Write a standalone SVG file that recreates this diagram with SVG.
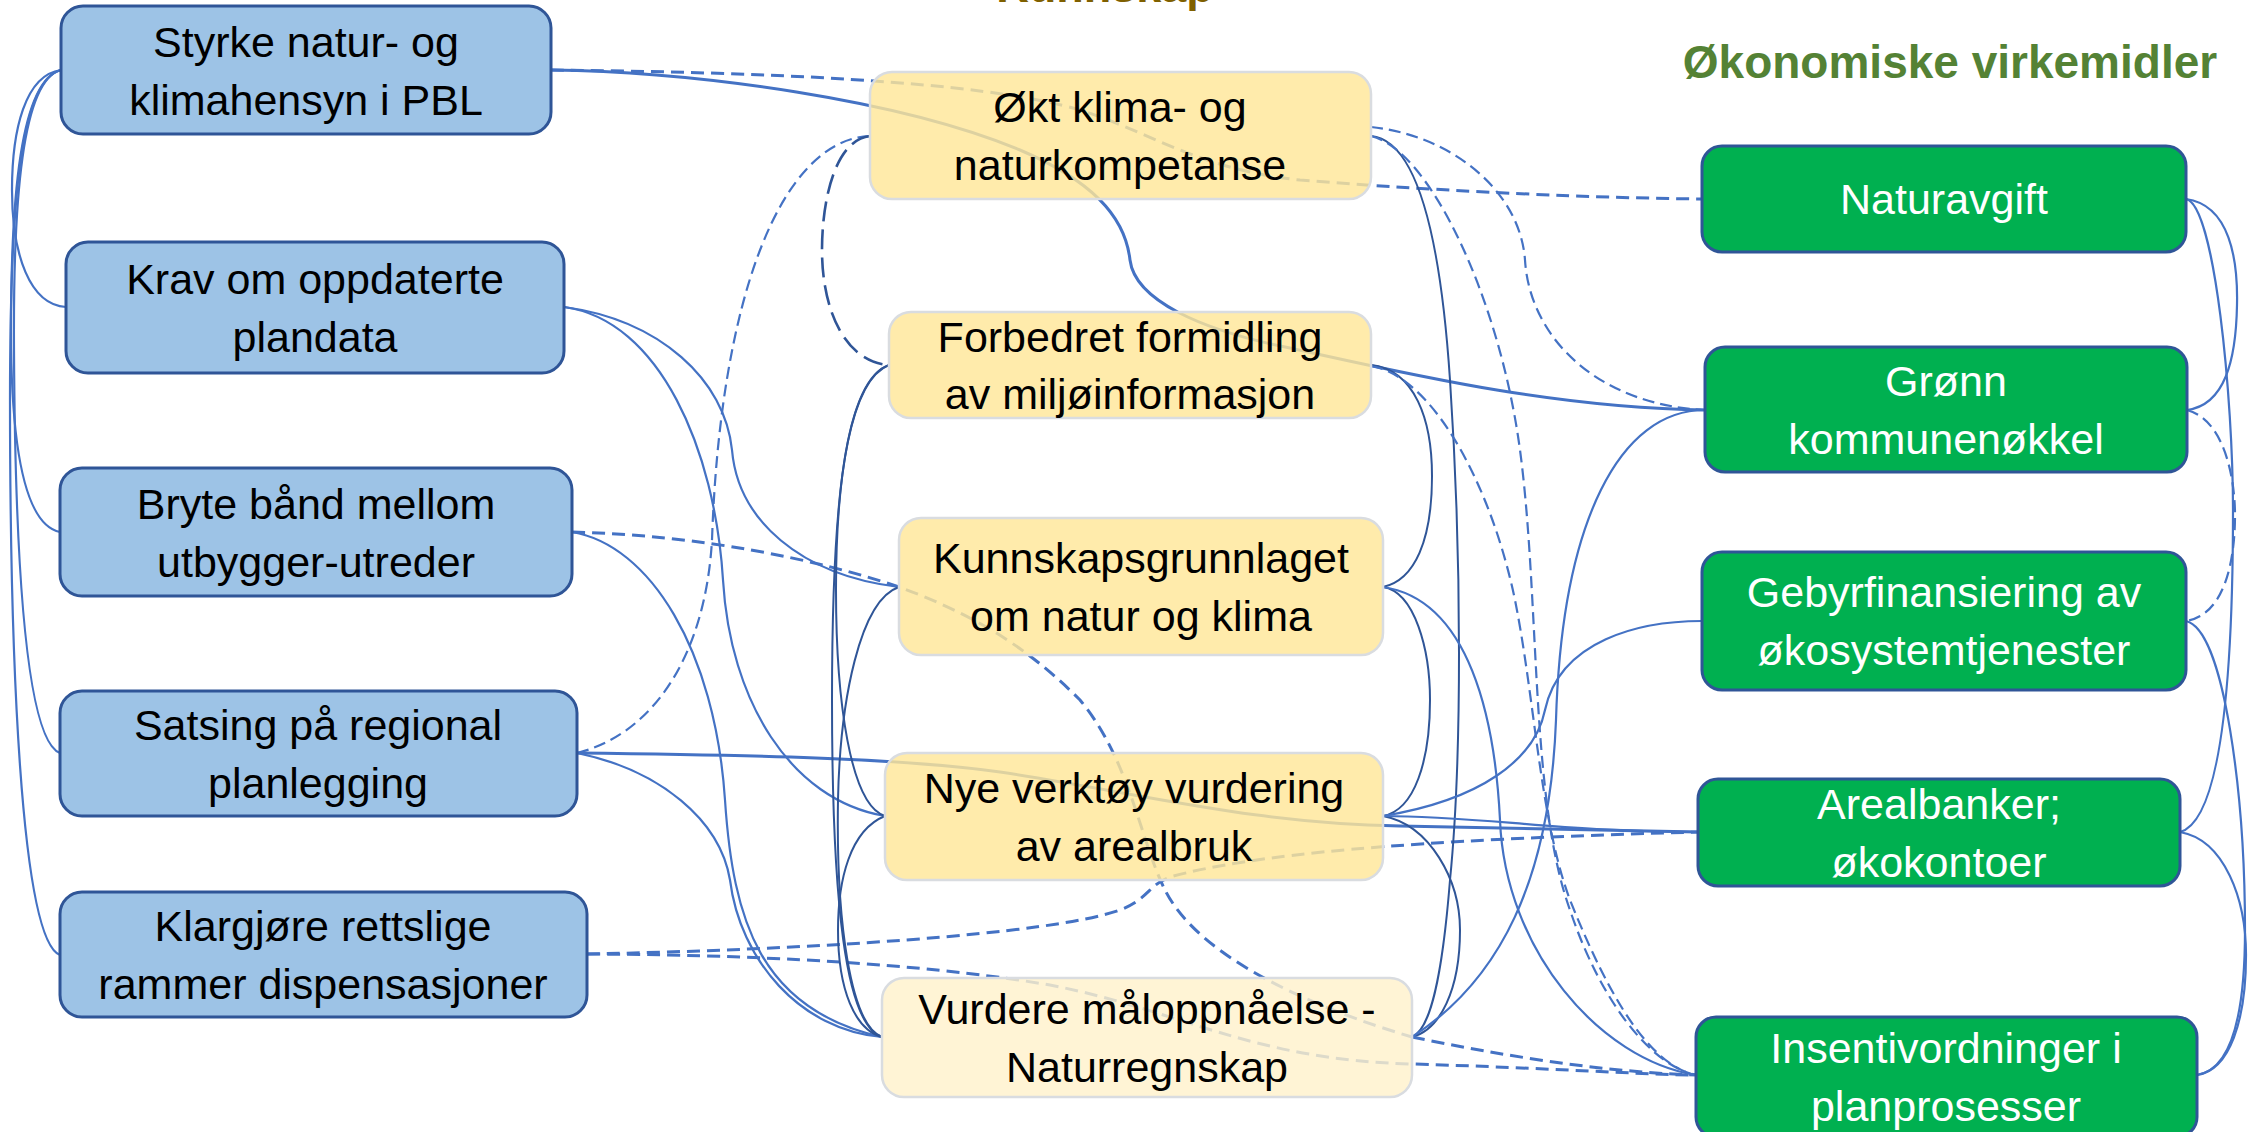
<svg xmlns="http://www.w3.org/2000/svg" width="2255" height="1132" viewBox="0 0 2255 1132">
<style>
.c{fill:none;stroke:#4472C4;stroke-width:2.2}
.ct{fill:none;stroke:#4472C4;stroke-width:3}
.dk{fill:none;stroke:#2F5597;stroke-width:2}
.dt{fill:none;stroke:#4472C4;stroke-width:3;stroke-dasharray:13 7}
.dn{fill:none;stroke:#4472C4;stroke-width:2.2;stroke-dasharray:12 6}
.dd{fill:none;stroke:#2F5597;stroke-width:2.6;stroke-dasharray:20 8}
.nb rect{fill:#9DC3E6;stroke:#2F5597;stroke-width:3}
.ny rect{fill:#FFE699;fill-opacity:.82;stroke:#D9DCE0;stroke-width:2.5}
.ny.light rect{fill:#FFF2CC}
.ng rect{fill:#00B050;stroke:#2F5597;stroke-width:3}
text{font-family:'Liberation Sans',Arial,sans-serif;font-size:43px;text-anchor:middle;fill:#000}
.ng text{fill:#fff}
.title{font-weight:bold}
</style>
<rect width="2255" height="1132" fill="#fff"/>
<g id="titles">
<text class="title" x="1105" y="2" style="font-size:45px;fill:#7F6000">Kunnskap</text>
<text class="title" x="1950" y="78" style="font-size:46px;fill:#548235">Økonomiske virkemidler</text>
</g>
<g id="connectors">
<path class="c" d="M61,70 C25,75 12,130 12,190 C12,255 30,305 66,307"/>
<path class="c" d="M61,70 C20,80 11,200 11,330 C11,450 25,525 60,532"/>
<path class="c" d="M61,70 C22,80 13,200 14,350 C15,550 25,740 60,753"/>
<path class="c" d="M61,70 C20,80 10,200 10,400 C10,650 20,940 60,955"/>
<path class="ct" d="M551,70 C700,72 900,100 1020,150 C1090,180 1125,215 1130,260 C1135,300 1200,330 1290,348 C1400,372 1550,408 1705,410"/>
<path class="dt" d="M551,70 C750,72 980,80 1080,110 C1150,132 1200,170 1300,180 C1450,192 1600,198 1702,199"/>
<path class="c" d="M564,307 C660,320 725,380 732,450 C738,520 800,575 899,587"/>
<path class="c" d="M564,307 C660,320 715,450 723,580 C730,700 790,800 885,816"/>
<path class="c" d="M572,532 C650,545 715,650 725,800 C733,920 760,1010 882,1037"/>
<path class="dt" d="M572,532 C700,535 820,560 899,587 C990,620 1040,660 1080,700 C1130,760 1140,840 1165,890 C1200,960 1320,1010 1412,1037"/>
<path class="dn" d="M577,753 C650,735 705,660 712,540 C720,300 780,140 870,136"/>
<path class="ct" d="M577,753 C750,755 900,758 1000,772 C1150,795 1250,823 1400,826 L1698,832"/>
<path class="c" d="M577,753 C660,770 720,820 730,880 C740,960 800,1030 882,1037"/>
<path class="dt" d="M587,954 C800,950 1050,935 1120,910 C1150,898 1148,885 1170,877 C1250,855 1400,840 1698,832"/>
<path class="dt" d="M587,954 C800,955 950,968 1050,985 C1180,1010 1250,1060 1413,1064 C1550,1068 1650,1075 1696,1075"/>
<path class="dd" d="M870,136 C835,140 822,200 822,250 C822,310 845,362 889,365"/>
<path class="dk" d="M889,365 C850,380 836,480 836,590 C836,700 850,805 885,816"/>
<path class="dk" d="M889,365 C845,380 832,500 832,700 C832,900 845,1025 882,1037"/>
<path class="dk" d="M899,587 C860,600 840,700 838,800 C836,920 850,1025 882,1037"/>
<path class="dk" d="M885,816 C850,830 838,880 838,930 C838,990 855,1030 882,1037"/>
<path class="dk" d="M1371,136 C1415,140 1440,230 1450,380 C1462,560 1462,760 1450,880 C1442,980 1430,1030 1412,1037"/>
<path class="dk" d="M1371,365 C1415,370 1432,420 1432,476 C1432,540 1415,580 1383,587"/>
<path class="dk" d="M1383,587 C1415,592 1430,650 1430,700 C1430,760 1415,810 1383,816"/>
<path class="dk" d="M1383,816 C1430,825 1460,880 1460,930 C1460,990 1440,1030 1412,1037"/>
<path class="dn" d="M1371,127 C1450,135 1520,190 1525,260 C1530,340 1600,405 1705,410"/>
<path class="dn" d="M1371,136 C1430,150 1500,300 1520,450 C1540,600 1530,800 1570,910 C1600,1000 1650,1065 1696,1075"/>
<path class="dn" d="M1371,366 C1430,375 1490,480 1515,600 C1535,700 1540,820 1570,900 C1610,1000 1650,1065 1696,1075"/>
<path class="c" d="M1383,587 C1470,600 1495,720 1500,820 C1505,950 1600,1060 1696,1075"/>
<path class="c" d="M1383,816 C1480,800 1535,760 1545,710 C1560,640 1640,621 1702,621"/>
<path class="c" d="M1383,816 C1480,816 1560,832 1698,832"/>
<path class="c" d="M1412,1037 C1500,980 1550,880 1556,720 C1562,520 1620,410 1705,410"/>
<path class="dt" d="M1412,1037 C1500,1055 1600,1072 1696,1075"/>
<path class="c" d="M2186,199 C2230,205 2238,260 2237,305 C2236,360 2225,405 2187,410"/>
<path class="c" d="M2186,199 C2215,205 2233,400 2233,510 C2233,650 2225,820 2180,832"/>
<path class="dn" d="M2187,410 C2225,420 2235,480 2235,515 C2235,560 2225,615 2186,621"/>
<path class="c" d="M2186,621 C2225,630 2245,800 2245,930 C2245,1020 2230,1070 2197,1075"/>
<path class="c" d="M2180,832 C2225,840 2246,900 2246,955 C2246,1020 2230,1070 2197,1075"/>
</g>
<g id="n-styrke" class="nb"><rect x="61" y="6" width="490" height="128" rx="22"/><text><tspan x="306" y="57">Styrke natur- og</tspan><tspan x="306" y="115">klimahensyn i PBL</tspan></text></g>
<g id="n-krav" class="nb"><rect x="66" y="242" width="498" height="131" rx="22"/><text><tspan x="315" y="294">Krav om oppdaterte</tspan><tspan x="315" y="352">plandata</tspan></text></g>
<g id="n-bryte" class="nb"><rect x="60" y="468" width="512" height="128" rx="22"/><text><tspan x="316" y="519">Bryte bånd mellom</tspan><tspan x="316" y="577">utbygger-utreder</tspan></text></g>
<g id="n-satsing" class="nb"><rect x="60" y="691" width="517" height="125" rx="22"/><text><tspan x="318" y="740">Satsing på regional</tspan><tspan x="318" y="798">planlegging</tspan></text></g>
<g id="n-klargjore" class="nb"><rect x="60" y="892" width="527" height="125" rx="22"/><text><tspan x="323" y="941">Klargjøre rettslige</tspan><tspan x="323" y="999">rammer dispensasjoner</tspan></text></g>
<g id="n-okt" class="ny"><rect x="870" y="72" width="501" height="127" rx="22"/><text><tspan x="1120" y="122">Økt klima- og</tspan><tspan x="1120" y="180">naturkompetanse</tspan></text></g>
<g id="n-forbedret" class="ny"><rect x="889" y="312" width="482" height="106" rx="22"/><text><tspan x="1130" y="352">Forbedret formidling</tspan><tspan x="1130" y="409">av miljøinformasjon</tspan></text></g>
<g id="n-kunnskap" class="ny"><rect x="899" y="518" width="484" height="137" rx="22"/><text><tspan x="1141" y="573">Kunnskapsgrunnlaget</tspan><tspan x="1141" y="631">om natur og klima</tspan></text></g>
<g id="n-nye" class="ny"><rect x="885" y="753" width="498" height="127" rx="22"/><text><tspan x="1134" y="803">Nye verktøy vurdering</tspan><tspan x="1134" y="861">av arealbruk</tspan></text></g>
<g id="n-vurdere" class="ny light"><rect x="882" y="978" width="530" height="119" rx="22"/><text><tspan x="1147" y="1024">Vurdere måloppnåelse -</tspan><tspan x="1147" y="1082">Naturregnskap</tspan></text></g>
<g id="n-naturavgift" class="ng"><rect x="1702" y="146" width="484" height="106" rx="20"/><text x="1944" y="214">Naturavgift</text></g>
<g id="n-gronn" class="ng"><rect x="1705" y="347" width="482" height="125" rx="20"/><text><tspan x="1946" y="396">Grønn</tspan><tspan x="1946" y="454">kommunenøkkel</tspan></text></g>
<g id="n-gebyr" class="ng"><rect x="1702" y="552" width="484" height="138" rx="20"/><text><tspan x="1944" y="607">Gebyrfinansiering av</tspan><tspan x="1944" y="665">økosystemtjenester</tspan></text></g>
<g id="n-arealbanker" class="ng"><rect x="1698" y="779" width="482" height="107" rx="20"/><text><tspan x="1939" y="819">Arealbanker;</tspan><tspan x="1939" y="877">økokontoer</tspan></text></g>
<g id="n-insentiv" class="ng"><rect x="1696" y="1017" width="501" height="120" rx="20"/><text><tspan x="1946" y="1063">Insentivordninger i</tspan><tspan x="1946" y="1121">planprosesser</tspan></text></g>
</svg>
